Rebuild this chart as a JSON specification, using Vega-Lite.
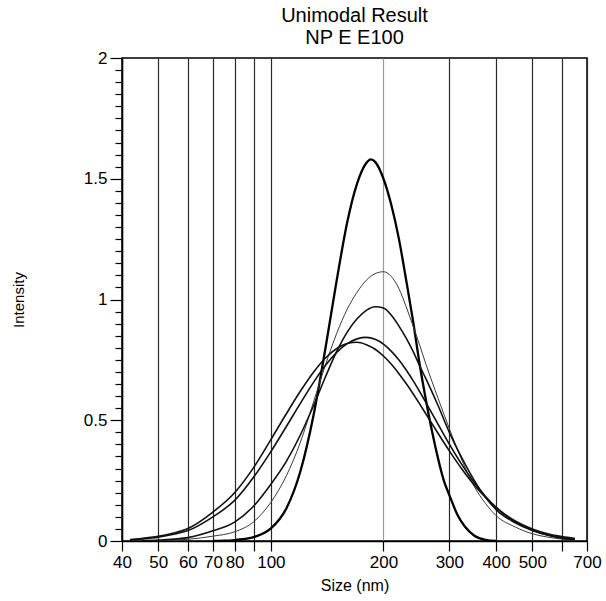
{
  "$schema": "https://vega.github.io/schema/vega-lite/v6.json",
  "width": 465,
  "height": 483,
  "autosize": "none",
  "padding": {"left": 122, "top": 58, "right": 19, "bottom": 60},
  "background": "white",
  "config": {
    "font": "Liberation Sans",
    "view": {"stroke": "#000", "strokeWidth": 1.5},
    "axis": {"domainColor": "#000", "tickColor": "#000", "labelColor": "#000", "titleColor": "#000", "labelFont": "Liberation Sans", "titleFont": "Liberation Sans", "titleFontWeight": "normal"}
  },
  "title": {
    "text": ["Unimodal Result", "NP E E100"],
    "fontSize": 20,
    "fontWeight": "normal",
    "font": "Liberation Sans",
    "color": "#000",
    "lineHeight": 22,
    "offset": 1,
    "anchor": "middle"
  },
  "data": {
    "values": [
      {"run": "1", "size": 70, "intensity": 0},
      {"run": "1", "size": 75, "intensity": 0.001},
      {"run": "1", "size": 80, "intensity": 0.004},
      {"run": "1", "size": 90, "intensity": 0.016},
      {"run": "1", "size": 100, "intensity": 0.052},
      {"run": "1", "size": 110, "intensity": 0.135},
      {"run": "1", "size": 120, "intensity": 0.29},
      {"run": "1", "size": 130, "intensity": 0.52},
      {"run": "1", "size": 140, "intensity": 0.8},
      {"run": "1", "size": 150, "intensity": 1.08},
      {"run": "1", "size": 160, "intensity": 1.32},
      {"run": "1", "size": 170, "intensity": 1.48},
      {"run": "1", "size": 180, "intensity": 1.565},
      {"run": "1", "size": 185, "intensity": 1.58},
      {"run": "1", "size": 190, "intensity": 1.57},
      {"run": "1", "size": 200, "intensity": 1.5},
      {"run": "1", "size": 210, "intensity": 1.39},
      {"run": "1", "size": 220, "intensity": 1.25},
      {"run": "1", "size": 230, "intensity": 1.08},
      {"run": "1", "size": 240, "intensity": 0.91},
      {"run": "1", "size": 250, "intensity": 0.73},
      {"run": "1", "size": 260, "intensity": 0.58},
      {"run": "1", "size": 270, "intensity": 0.45},
      {"run": "1", "size": 280, "intensity": 0.34},
      {"run": "1", "size": 290, "intensity": 0.25},
      {"run": "1", "size": 300, "intensity": 0.19},
      {"run": "1", "size": 315, "intensity": 0.11},
      {"run": "1", "size": 330, "intensity": 0.06},
      {"run": "1", "size": 350, "intensity": 0.022},
      {"run": "1", "size": 375, "intensity": 0.005},
      {"run": "1", "size": 400, "intensity": 0},

      {"run": "2", "size": 50, "intensity": 0.001},
      {"run": "2", "size": 60, "intensity": 0.007},
      {"run": "2", "size": 70, "intensity": 0.02},
      {"run": "2", "size": 80, "intensity": 0.038},
      {"run": "2", "size": 90, "intensity": 0.08},
      {"run": "2", "size": 100, "intensity": 0.16},
      {"run": "2", "size": 110, "intensity": 0.27},
      {"run": "2", "size": 120, "intensity": 0.41},
      {"run": "2", "size": 130, "intensity": 0.575},
      {"run": "2", "size": 140, "intensity": 0.73},
      {"run": "2", "size": 150, "intensity": 0.86},
      {"run": "2", "size": 160, "intensity": 0.96},
      {"run": "2", "size": 170, "intensity": 1.03},
      {"run": "2", "size": 180, "intensity": 1.08},
      {"run": "2", "size": 190, "intensity": 1.107},
      {"run": "2", "size": 200, "intensity": 1.115},
      {"run": "2", "size": 210, "intensity": 1.095},
      {"run": "2", "size": 220, "intensity": 1.045},
      {"run": "2", "size": 230, "intensity": 0.97},
      {"run": "2", "size": 240, "intensity": 0.89},
      {"run": "2", "size": 250, "intensity": 0.81},
      {"run": "2", "size": 260, "intensity": 0.73},
      {"run": "2", "size": 280, "intensity": 0.59},
      {"run": "2", "size": 300, "intensity": 0.465},
      {"run": "2", "size": 325, "intensity": 0.33},
      {"run": "2", "size": 350, "intensity": 0.225},
      {"run": "2", "size": 375, "intensity": 0.155},
      {"run": "2", "size": 400, "intensity": 0.105},
      {"run": "2", "size": 450, "intensity": 0.058},
      {"run": "2", "size": 500, "intensity": 0.03},
      {"run": "2", "size": 550, "intensity": 0.016},
      {"run": "2", "size": 600, "intensity": 0.008},
      {"run": "2", "size": 650, "intensity": 0.003},

      {"run": "3", "size": 45, "intensity": 0.001},
      {"run": "3", "size": 50, "intensity": 0.004},
      {"run": "3", "size": 60, "intensity": 0.014},
      {"run": "3", "size": 70, "intensity": 0.042},
      {"run": "3", "size": 80, "intensity": 0.078},
      {"run": "3", "size": 90, "intensity": 0.145},
      {"run": "3", "size": 100, "intensity": 0.235},
      {"run": "3", "size": 110, "intensity": 0.33},
      {"run": "3", "size": 120, "intensity": 0.44},
      {"run": "3", "size": 130, "intensity": 0.56},
      {"run": "3", "size": 140, "intensity": 0.68},
      {"run": "3", "size": 150, "intensity": 0.785},
      {"run": "3", "size": 160, "intensity": 0.865},
      {"run": "3", "size": 170, "intensity": 0.92},
      {"run": "3", "size": 180, "intensity": 0.955},
      {"run": "3", "size": 190, "intensity": 0.97},
      {"run": "3", "size": 200, "intensity": 0.965},
      {"run": "3", "size": 210, "intensity": 0.935},
      {"run": "3", "size": 220, "intensity": 0.89},
      {"run": "3", "size": 230, "intensity": 0.84},
      {"run": "3", "size": 240, "intensity": 0.785},
      {"run": "3", "size": 250, "intensity": 0.725},
      {"run": "3", "size": 260, "intensity": 0.67},
      {"run": "3", "size": 280, "intensity": 0.56},
      {"run": "3", "size": 300, "intensity": 0.45},
      {"run": "3", "size": 325, "intensity": 0.34},
      {"run": "3", "size": 350, "intensity": 0.25},
      {"run": "3", "size": 375, "intensity": 0.18},
      {"run": "3", "size": 400, "intensity": 0.13},
      {"run": "3", "size": 450, "intensity": 0.075},
      {"run": "3", "size": 500, "intensity": 0.043},
      {"run": "3", "size": 550, "intensity": 0.024},
      {"run": "3", "size": 600, "intensity": 0.012},
      {"run": "3", "size": 650, "intensity": 0.005},

      {"run": "4", "size": 42, "intensity": 0.004},
      {"run": "4", "size": 45, "intensity": 0.008},
      {"run": "4", "size": 50, "intensity": 0.016},
      {"run": "4", "size": 55, "intensity": 0.028},
      {"run": "4", "size": 60, "intensity": 0.043},
      {"run": "4", "size": 70, "intensity": 0.1},
      {"run": "4", "size": 80, "intensity": 0.168},
      {"run": "4", "size": 90, "intensity": 0.265},
      {"run": "4", "size": 100, "intensity": 0.37},
      {"run": "4", "size": 110, "intensity": 0.474},
      {"run": "4", "size": 120, "intensity": 0.571},
      {"run": "4", "size": 130, "intensity": 0.657},
      {"run": "4", "size": 140, "intensity": 0.728},
      {"run": "4", "size": 150, "intensity": 0.781},
      {"run": "4", "size": 160, "intensity": 0.817},
      {"run": "4", "size": 170, "intensity": 0.837},
      {"run": "4", "size": 180, "intensity": 0.843},
      {"run": "4", "size": 190, "intensity": 0.835},
      {"run": "4", "size": 200, "intensity": 0.815},
      {"run": "4", "size": 210, "intensity": 0.785},
      {"run": "4", "size": 220, "intensity": 0.749},
      {"run": "4", "size": 230, "intensity": 0.708},
      {"run": "4", "size": 240, "intensity": 0.664},
      {"run": "4", "size": 250, "intensity": 0.618},
      {"run": "4", "size": 260, "intensity": 0.572},
      {"run": "4", "size": 280, "intensity": 0.483},
      {"run": "4", "size": 300, "intensity": 0.401},
      {"run": "4", "size": 325, "intensity": 0.313},
      {"run": "4", "size": 350, "intensity": 0.241},
      {"run": "4", "size": 375, "intensity": 0.184},
      {"run": "4", "size": 400, "intensity": 0.139},
      {"run": "4", "size": 450, "intensity": 0.079},
      {"run": "4", "size": 500, "intensity": 0.045},
      {"run": "4", "size": 550, "intensity": 0.025},
      {"run": "4", "size": 600, "intensity": 0.014},
      {"run": "4", "size": 650, "intensity": 0.008},

      {"run": "5", "size": 42, "intensity": 0.006},
      {"run": "5", "size": 45, "intensity": 0.01},
      {"run": "5", "size": 50, "intensity": 0.019},
      {"run": "5", "size": 55, "intensity": 0.033},
      {"run": "5", "size": 60, "intensity": 0.052},
      {"run": "5", "size": 70, "intensity": 0.12},
      {"run": "5", "size": 80, "intensity": 0.2},
      {"run": "5", "size": 90, "intensity": 0.305},
      {"run": "5", "size": 100, "intensity": 0.42},
      {"run": "5", "size": 110, "intensity": 0.527},
      {"run": "5", "size": 120, "intensity": 0.621},
      {"run": "5", "size": 130, "intensity": 0.699},
      {"run": "5", "size": 140, "intensity": 0.758},
      {"run": "5", "size": 150, "intensity": 0.797},
      {"run": "5", "size": 160, "intensity": 0.818},
      {"run": "5", "size": 170, "intensity": 0.823},
      {"run": "5", "size": 180, "intensity": 0.813},
      {"run": "5", "size": 190, "intensity": 0.794},
      {"run": "5", "size": 200, "intensity": 0.766},
      {"run": "5", "size": 210, "intensity": 0.732},
      {"run": "5", "size": 220, "intensity": 0.693},
      {"run": "5", "size": 230, "intensity": 0.652},
      {"run": "5", "size": 240, "intensity": 0.61},
      {"run": "5", "size": 250, "intensity": 0.567},
      {"run": "5", "size": 260, "intensity": 0.525},
      {"run": "5", "size": 280, "intensity": 0.445},
      {"run": "5", "size": 300, "intensity": 0.373},
      {"run": "5", "size": 325, "intensity": 0.295},
      {"run": "5", "size": 350, "intensity": 0.231},
      {"run": "5", "size": 375, "intensity": 0.18},
      {"run": "5", "size": 400, "intensity": 0.139},
      {"run": "5", "size": 450, "intensity": 0.083},
      {"run": "5", "size": 500, "intensity": 0.05},
      {"run": "5", "size": 550, "intensity": 0.03},
      {"run": "5", "size": 600, "intensity": 0.018},
      {"run": "5", "size": 650, "intensity": 0.01}
    ]
  },
  "mark": {"type": "line", "interpolate": "monotone", "clip": true},
  "encoding": {
    "x": {
      "field": "size",
      "type": "quantitative",
      "scale": {"type": "log", "domain": [40, 700], "nice": false},
      "axis": {
        "title": "Size (nm)",
        "titleFontSize": 16,
        "titlePadding": 7,
        "values": [40, 50, 60, 70, 80, 90, 100, 200, 300, 400, 500, 600, 700],
        "format": "d",
        "labelExpr": "(datum.value == 90 || datum.value == 600) ? '' : datum.label",
        "labelFontSize": 17,
        "labelOverlap": false,
        "labelFlush": false,
        "labelPadding": 3,
        "tickSize": 10,
        "tickWidth": 1.2,
        "domainWidth": 1.5,
        "grid": true,
        "gridColor": {"condition": {"test": "datum.value == 200", "value": "#9a9a9a"}, "value": "#2a2a2a"},
        "gridWidth": 1.2,
        "gridOpacity": 1
      }
    },
    "y": {
      "field": "intensity",
      "type": "quantitative",
      "scale": {"domain": [0, 2], "nice": false, "zero": true},
      "axis": {
        "title": "Intensity",
        "titleFontSize": 15,
        "titleAngle": 270,
        "titleX": -104,
        "titleY": 241.5,
        "titleAlign": "center",
        "titleBaseline": "middle",
        "values": [0, 0.05, 0.1, 0.15, 0.2, 0.25, 0.3, 0.35, 0.4, 0.45, 0.5, 0.55, 0.6, 0.65, 0.7, 0.75, 0.8, 0.85, 0.9, 0.95, 1, 1.05, 1.1, 1.15, 1.2, 1.25, 1.3, 1.35, 1.4, 1.45, 1.5, 1.55, 1.6, 1.65, 1.7, 1.75, 1.8, 1.85, 1.9, 1.95, 2],
        "format": ".2~f",
        "labelExpr": "abs(datum.value * 2 - round(datum.value * 2)) < 0.000001 ? datum.label : ''",
        "labelFontSize": 17,
        "labelOverlap": false,
        "labelFlush": false,
        "labelPadding": 3,
        "tickSize": {"condition": {"test": "abs(datum.value * 2 - round(datum.value * 2)) < 0.000001", "value": 12}, "value": 7},
        "tickWidth": 1.2,
        "domainWidth": 1.5,
        "grid": false
      }
    },
    "detail": {"field": "run"},
    "color": {
      "field": "run",
      "type": "nominal",
      "scale": {"domain": ["1", "2", "3", "4", "5"], "range": ["#000000", "#3a3a3a", "#111111", "#111111", "#111111"]},
      "legend": null
    },
    "strokeWidth": {
      "condition": [
        {"test": "datum.run == '1'", "value": 2.3},
        {"test": "datum.run == '2'", "value": 1.0}
      ],
      "value": 1.6
    }
  }
}
